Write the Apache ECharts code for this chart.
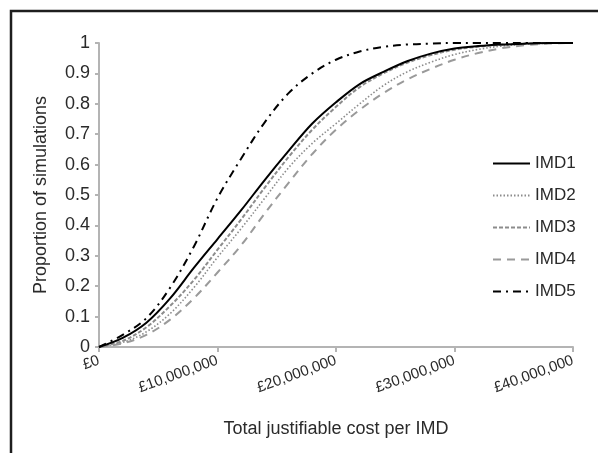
<!DOCTYPE html>
<html>
<head>
<meta charset="utf-8">
<script src="https://cdn.jsdelivr.net/npm/echarts@6/dist/echarts.min.js"></script>
<style>
  html, body { margin: 0; padding: 0; background: #fff; }
  #chart { width: 598px; height: 453px; }
</style>
</head>
<body>
<div id="chart"></div>
<script>
// cost points (in £)
var costs = [0, 2e6, 4e6, 6e6, 8e6, 10e6, 12e6, 14e6, 16e6, 18e6, 20e6,
             22e6, 24e6, 26e6, 28e6, 30e6, 32e6, 34e6, 36e6, 38e6, 40e6];

var imd1 = [0, 0.03, 0.08, 0.16, 0.26, 0.355, 0.45, 0.55, 0.645, 0.735, 0.805,
            0.865, 0.905, 0.94, 0.965, 0.982, 0.99, 0.995, 0.998, 1, 1];
var imd2 = [0, 0.015, 0.05, 0.11, 0.195, 0.295, 0.39, 0.49, 0.59, 0.67, 0.735,
            0.8, 0.86, 0.905, 0.937, 0.962, 0.979, 0.99, 0.996, 0.999, 1];
var imd3 = [0, 0.02, 0.065, 0.135, 0.22, 0.32, 0.42, 0.525, 0.625, 0.715, 0.79,
            0.855, 0.9, 0.935, 0.96, 0.978, 0.988, 0.994, 0.998, 1, 1];
var imd4 = [0, 0.012, 0.04, 0.09, 0.16, 0.245, 0.335, 0.44, 0.54, 0.635, 0.715,
            0.78, 0.835, 0.88, 0.915, 0.945, 0.967, 0.983, 0.993, 0.998, 1];
var imd5 = [0, 0.04, 0.095, 0.195, 0.33, 0.49, 0.62, 0.74, 0.835, 0.9, 0.945,
            0.972, 0.987, 0.995, 0.998, 1, 1, 1, 1, 1, 1];

var seriesNames = ['IMD1', 'IMD2', 'IMD3', 'IMD4', 'IMD5'];

var font = 'Liberation Sans, Arial, Helvetica, sans-serif';
var axisGray = '#b4b4b4';
var textColor = '#2a2a2a';

function pairs(vals) {
  return costs.map(function(c, i) { return [c, vals[i]]; });
}

function fmtPounds(v) {
  return '£' + String(Math.round(v)).replace(/\B(?=(\d{3})+(?!\d))/g, ',');
}

function curve(name, vals, color, width, dash, z) {
  return {
    name: name, type: 'line', symbol: 'none', showSymbol: false,
    smooth: 0.35,
    data: pairs(vals), z: z || 2,
    itemStyle: { color: color },
    lineStyle: { color: color, width: width, type: dash }
  };
}

var chart = echarts.init(document.getElementById('chart'), null, { renderer: 'canvas' });

chart.setOption({
  animation: false,
  backgroundColor: '#fff',
  textStyle: { fontFamily: font },
  graphic: [{
    type: 'rect',
    shape: { x: 11, y: 11, width: 620, height: 480 },
    style: { fill: 'none', stroke: '#1e1e1e', lineWidth: 2.5 },
    silent: true
  }],
  legend: {
    orient: 'vertical',
    left: 487,
    top: 150,
    itemWidth: 37,
    itemHeight: 12,
    itemGap: 15,
    data: seriesNames,
    itemStyle: { opacity: 0 },
    textStyle: { color: textColor, fontSize: 17, fontFamily: font }
  },
  grid: { left: 99, right: 25, top: 43, bottom: 106 },
  xAxis: {
    type: 'value',
    min: 0,
    max: 40000000,
    interval: 10000000,
    name: 'Total justifiable cost per IMD',
    nameLocation: 'middle',
    nameGap: 73,
    nameTextStyle: { color: textColor, fontSize: 18, fontFamily: font },
    axisLine: { show: true, lineStyle: { color: axisGray, width: 2 } },
    axisTick: { show: true, length: 5, lineStyle: { color: axisGray, width: 2 } },
    axisLabel: {
      color: textColor, fontSize: 15, rotate: 20, margin: 13,
      formatter: fmtPounds
    },
    splitLine: { show: false }
  },
  yAxis: {
    type: 'value',
    min: 0,
    max: 1,
    interval: 0.1,
    name: 'Proportion of simulations',
    nameLocation: 'middle',
    nameGap: 49,
    nameTextStyle: { color: textColor, fontSize: 18, fontFamily: font },
    axisLine: { show: true, lineStyle: { color: axisGray, width: 2 } },
    axisTick: { show: true, length: 4, lineStyle: { color: axisGray, width: 2 } },
    axisLabel: {
      color: textColor, fontSize: 18, margin: 9,
      formatter: function(v) { return String(Math.round(v * 10) / 10); }
    },
    splitLine: { show: false }
  },
  series: [
    curve('IMD1', imd1, '#000', 2, 'solid', 5),
    curve('IMD2', imd2, '#8c8c8c', 1.6, [1.5, 2]),
    curve('IMD3', imd3, '#8c8c8c', 2, [4, 2]),
    curve('IMD4', imd4, '#9a9a9a', 2, [8, 6]),
    curve('IMD5', imd5, '#000', 2, [8, 5, 2, 5], 4)
  ]
});
window.addEventListener('resize', function() { chart.resize(); });
</script>
</body>
</html>
